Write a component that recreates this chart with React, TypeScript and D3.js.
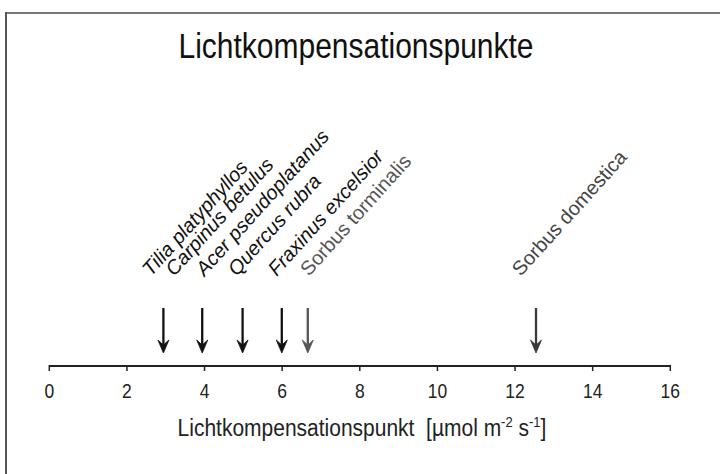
import React, { useEffect, useRef } from 'react';
import * as d3 from 'd3';

const tickValues = [0, 2, 4, 6, 8, 10, 12, 14, 16];
const arrowValues = [2.94, 3.94, 4.98, 5.99, 6.66, 12.54];
const arrowTones = ['#111', '#111', '#111', '#111', '#555', '#3a3a3a'];
const species = [
  'Tilia platyphyllos',
  'Carpinus betulus',
  'Acer pseudoplatanus',
  'Quercus rubra',
  'Fraxinus excelsior',
  'Sorbus torminalis',
  'Sorbus domestica',
];
const labelAt = [2.62, 3.22, 4.0, 4.83, 5.86, 6.69, 12.15];
const labelItalic = [true, true, true, true, true, false, false];
const labelTones = ['#111', '#111', '#111', '#111', '#111', '#555', '#444'];

const W = 720;
const H = 474;
const FONT = '"Liberation Sans", Arial, sans-serif';

const App = () => {
  const ref = useRef<SVGSVGElement | null>(null);

  useEffect(() => {
    const svg = d3.select(ref.current);
    svg.selectAll('*').remove();

    const axisY = 366;
    const x = d3.scaleLinear().domain([0, 16]).range([49.3, 670.3]);

    // frame (top and left edges only)
    svg.append('rect').attr('width', W).attr('height', H).attr('fill', '#fff');
    svg.append('line').attr('x1', 5).attr('x2', W).attr('y1', 13).attr('y2', 13)
      .attr('stroke', '#777').attr('stroke-width', 2);
    svg.append('line').attr('x1', 6).attr('x2', 6).attr('y1', 12).attr('y2', H)
      .attr('stroke', '#555').attr('stroke-width', 2);

    // the source figure is slightly stretched vertically
    svg.append('text')
      .attr('transform', 'translate(356,58) scale(1,1.15)')
      .attr('text-anchor', 'middle')
      .style('font-family', FONT).style('font-size', '30px').style('fill', '#111')
      .text('Lichtkompensationspunkte');

    // axis
    const axis = svg.append('g');
    axis.append('line')
      .attr('x1', x(0)).attr('x2', x(16)).attr('y1', axisY).attr('y2', axisY)
      .attr('stroke', '#222').attr('stroke-width', 2);
    axis.selectAll('line.tick').data(tickValues).enter().append('line')
      .attr('class', 'tick')
      .attr('x1', (d) => x(d)).attr('x2', (d) => x(d))
      .attr('y1', axisY - 1).attr('y2', axisY + 5)
      .attr('stroke', '#222').attr('stroke-width', 1.5);
    axis.selectAll('text.tl').data(tickValues).enter().append('text')
      .attr('class', 'tl')
      .attr('transform', (d) => `translate(${x(d)},398) scale(1,1.2)`)
      .attr('text-anchor', 'middle')
      .style('font-family', FONT).style('font-size', '17.5px').style('fill', '#222')
      .text((d) => String(d));

    const label = svg.append('text')
      .attr('transform', 'translate(362,436) scale(1,1.12)')
      .attr('text-anchor', 'middle')
      .style('font-family', FONT).style('font-size', '21px').style('fill', '#222');
    label.append('tspan').text('Lichtkompensationspunkt\u00a0\u00a0[\u00b5mol m');
    label.append('tspan').attr('dy', -8).style('font-size', '13px').text('-2');
    label.append('tspan').attr('dy', 8).text(' s');
    label.append('tspan').attr('dy', -8).style('font-size', '13px').text('-1');
    label.append('tspan').attr('dy', 8).text(']');

    // arrows
    const top = 308;
    const tip = 353;
    const g = svg.append('g');
    arrowValues.forEach((v, i) => {
      const cx = x(v);
      g.append('line')
        .attr('x1', cx).attr('x2', cx).attr('y1', top).attr('y2', tip - 6)
        .attr('stroke', arrowTones[i]).attr('stroke-width', 2.3);
      g.append('path')
        .attr('d', `M${cx - 5.5},${tip - 13} L${cx},${tip} L${cx + 5.5},${tip - 13} L${cx},${tip - 8} Z`)
        .attr('fill', arrowTones[i])
        .attr('stroke', arrowTones[i])
        .attr('stroke-width', 0.8)
        .attr('stroke-linejoin', 'round');
    });

    // species labels
    svg.selectAll('text.sp').data(species).enter().append('text')
      .attr('class', 'sp')
      .attr('transform', (d, i) => `translate(${x(labelAt[i])},277) rotate(-48)`)
      .style('font-family', FONT).style('font-size', '20px')
      .style('font-style', (d, i) => (labelItalic[i] ? 'italic' : 'normal'))
      .style('fill', (d, i) => labelTones[i])
      .text((d) => d);
  }, []);

  return (
    <svg
      ref={ref}
      width={W}
      height={H}
      style={{ position: 'absolute', left: 0, top: 0, display: 'block' }}
    />
  );
};

export default App;
